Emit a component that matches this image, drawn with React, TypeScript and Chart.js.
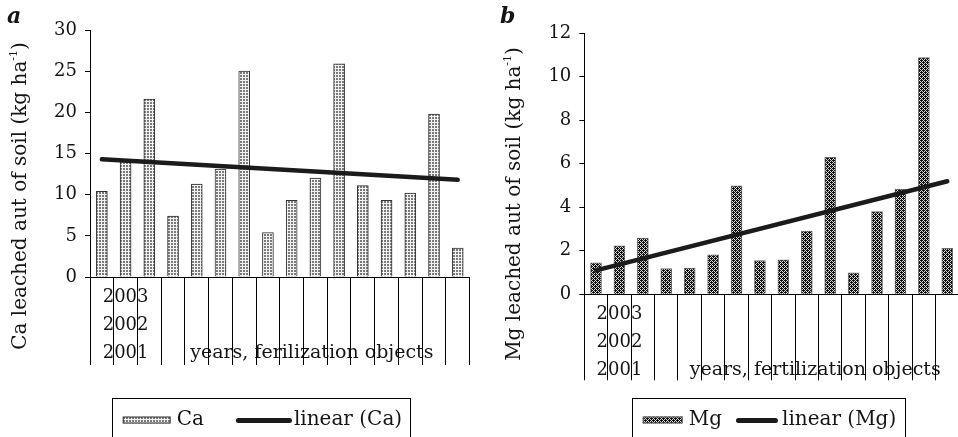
import React, { useEffect, useRef } from 'react';
import { Chart, registerables } from 'chart.js';

Chart.register(...registerables);

// ---- data ----
const objects = ['1', '2', '3', '4', '5', '6', '7', '8', '9', '10', '11', '12', '13', '14', '15', '16'];
const caValues = [10.4, 14.2, 21.6, 7.4, 11.3, 13.1, 25.0, 5.4, 9.3, 12.0, 25.9, 11.1, 9.3, 10.2, 19.8, 3.5];
const mgValues = [1.45, 2.23, 2.59, 1.18, 1.21, 1.82, 4.99, 1.55, 1.59, 2.91, 6.3, 0.99, 3.8, 4.84, 10.88, 2.11];
// linear trend: value at the first and at the last object
const caTrendEnds = [14.3, 11.8];
const mgTrendEnds = [1.1, 5.2];
const yearLabels = ['2003', '2002', '2001'];
const caAxis = [0, 30, 5];
const mgAxis = [0, 12, 2];

const SERIF = '"DejaVu Serif", serif';
const INK = '#151515';

const trendSeries = (ends: number[]) =>
  objects.map((_, i) => (i === 0 ? ends[0] : i === objects.length - 1 ? ends[1] : null));

function makePattern(kind: 'dots' | 'hatch'): CanvasPattern | string {
  const tile = document.createElement('canvas');
  const n = kind === 'dots' ? 3 : 4;
  tile.width = n;
  tile.height = n;
  const t = tile.getContext('2d');
  if (!t) return '#999';
  if (kind === 'dots') {
    t.fillStyle = '#f2f2f2';
    t.fillRect(0, 0, n, n);
    t.fillStyle = '#7a7a7a';
    t.fillRect(0, 0, 2, 2);
  } else {
    t.fillStyle = '#111';
    t.fillRect(0, 0, n, n);
    t.fillStyle = '#d8d8d8';
    for (let y = 0; y < n; y++) {
      for (let x = 0; x < n; x++) {
        if ((x + y) % 4 === 0 || (x - y + 4) % 4 === 0) t.fillRect(x, y, 1, 1);
      }
    }
  }
  const c = document.createElement('canvas').getContext('2d');
  return (c && c.createPattern(tile, 'repeat')) || '#999';
}

type PanelSpec = {
  letter: string;
  letterX: number;
  series: string;
  values: number[];
  trendEnds: number[];
  axis: number[];
  caption: string;
  captionAt: number;
  pattern: 'dots' | 'hatch';
  barBorder: string;
  width: number;
  padding: { left: number; top: number; right: number; bottom: number };
  yWidth: number;
  xHeight: number;
  titleX: number;
  titleY: number;
  legend: { left: number; top: number; swatchW: number; lineW: number; gapText: number; gapLine: number };
};

const decorPlugin = {
  id: 'decor',
  beforeDraw(chart: any, _a: any, opts: any) {
    // group texts under the category axis; the separator lines are drawn over them
    const x = chart.scales.x;
    const ctx = chart.ctx as CanvasRenderingContext2D;
    ctx.save();
    ctx.fillStyle = INK;
    ctx.textAlign = 'center';
    ctx.textBaseline = 'alphabetic';
    ctx.font = `18px ${SERIF}`;
    const yx = x.getPixelForValue(1);
    const rows = [25, 53, 81];
    yearLabels.forEach((t, i) => ctx.fillText(t, yx, x.top + rows[i]));
    ctx.font = `19px ${SERIF}`;
    ctx.fillText(opts.caption, x.getPixelForValue(opts.captionAt), x.top + rows[2]);
    ctx.restore();
  },
  afterDraw(chart: any, _a: any, opts: any) {
    const ctx = chart.ctx as CanvasRenderingContext2D;
    ctx.save();
    ctx.fillStyle = INK;
    ctx.textBaseline = 'alphabetic';
    ctx.textAlign = 'left';

    // panel letter
    ctx.font = `bold italic 22px ${SERIF}`;
    ctx.fillText(opts.letter, opts.letterX, 23);

    // rotated y axis title with superscript
    const parts = [
      { text: `${opts.series} leached aut of soil (kg ha`, size: 20, rise: 0 },
      { text: '-1', size: 11, rise: 9 },
      { text: ')', size: 20, rise: 0 },
    ];
    ctx.save();
    ctx.translate(opts.titleX, opts.titleY);
    ctx.rotate(-Math.PI / 2);
    const widths = parts.map((p) => {
      ctx.font = `${p.size}px ${SERIF}`;
      return ctx.measureText(p.text).width;
    });
    let tx = -widths.reduce((s, w) => s + w, 0) / 2;
    parts.forEach((p, i) => {
      ctx.font = `${p.size}px ${SERIF}`;
      ctx.fillText(p.text, tx, -p.rise);
      tx += widths[i];
    });
    ctx.restore();

    // boxed legend
    const lg = opts.legend;
    const bars = chart.data.datasets[1];
    const trend = chart.data.datasets[0];
    const midY = lg.top + 22;
    const base = lg.top + 27;
    ctx.font = `20px ${SERIF}`;
    let x = lg.left + 11;
    ctx.fillStyle = bars.backgroundColor;
    ctx.fillRect(x, midY - 3.5, lg.swatchW, 7);
    ctx.strokeStyle = bars.borderColor;
    ctx.lineWidth = 1;
    ctx.strokeRect(x + 0.5, midY - 3, lg.swatchW - 1, 6);
    x += lg.swatchW + 6;
    ctx.fillStyle = INK;
    ctx.fillText(bars.label, x, base);
    x += ctx.measureText(bars.label).width + lg.gapText;
    ctx.strokeStyle = trend.borderColor;
    ctx.lineWidth = 5;
    ctx.lineCap = 'round';
    ctx.beginPath();
    ctx.moveTo(x + 2.5, midY + 0.5);
    ctx.lineTo(x + lg.lineW - 2.5, midY + 0.5);
    ctx.stroke();
    x += lg.lineW + lg.gapLine;
    ctx.fillText(trend.label, x, base);
    x += ctx.measureText(trend.label).width + 8;
    ctx.strokeStyle = '#000';
    ctx.lineWidth = 1;
    ctx.lineCap = 'butt';
    ctx.strokeRect(Math.round(lg.left) + 0.5, lg.top + 0.5, Math.round(x - lg.left), 60);
    ctx.restore();
  },
};

function Panel({ spec, left }: { spec: PanelSpec; left: number }) {
  const ref = useRef<HTMLCanvasElement | null>(null);
  useEffect(() => {
    if (!ref.current) return;
    const fill = makePattern(spec.pattern);
    const chart = new Chart(ref.current, {
      type: 'bar',
      data: {
        labels: objects,
        datasets: [
          {
            type: 'line',
            label: `linear (${spec.series})`,
            data: trendSeries(spec.trendEnds),
            borderColor: '#1b1b1b',
            borderWidth: 4.5,
            borderCapStyle: 'round',
            pointRadius: 0,
            spanGaps: true,
            order: 0,
          } as any,
          {
            type: 'bar',
            label: spec.series,
            data: spec.values,
            backgroundColor: fill as any,
            borderColor: spec.barBorder,
            borderWidth: 1,
            barThickness: 11,
            order: 1,
          },
        ],
      },
      options: {
        responsive: false,
        animation: false,
        layout: { padding: spec.padding },
        font: { family: SERIF },
        plugins: {
          legend: { display: false },
          tooltip: { enabled: false },
          decor: {
            letter: spec.letter,
            letterX: spec.letterX,
            series: spec.series,
            caption: spec.caption,
            captionAt: spec.captionAt,
            titleX: spec.titleX,
            titleY: spec.titleY,
            legend: spec.legend,
          },
        } as any,
        scales: {
          x: {
            type: 'category',
            offset: true,
            grid: { offset: true, drawOnChartArea: false, tickLength: spec.xHeight, color: '#000', lineWidth: 1 },
            border: { color: '#000', width: 1 },
            ticks: { display: false },
            afterFit: (s: any) => {
              s.height = spec.xHeight;
            },
          },
          y: {
            min: spec.axis[0],
            max: spec.axis[1],
            grid: { drawOnChartArea: false, tickLength: 5, color: '#000', lineWidth: 1 },
            border: { color: '#000', width: 1 },
            ticks: { stepSize: spec.axis[2], padding: 8, color: INK, font: { family: SERIF, size: 18 } },
            afterFit: (s: any) => {
              s.width = spec.yWidth;
            },
          },
        },
      },
      plugins: [decorPlugin],
    });
    return () => chart.destroy();
  }, [spec]);
  return (
    <canvas
      ref={ref}
      width={spec.width}
      height={437}
      style={{ position: 'absolute', left, top: 0, width: spec.width, height: 437 }}
    />
  );
}

const panelA: PanelSpec = {
  letter: 'a',
  letterX: 7,
  series: 'Ca',
  values: caValues,
  trendEnds: caTrendEnds,
  axis: caAxis,
  caption: 'years, ferilization objects',
  captionAt: 8.85,
  pattern: 'dots',
  barBorder: '#333333',
  width: 479,
  padding: { left: 0, top: 30, right: 9.4, bottom: 72 },
  yWidth: 90,
  xHeight: 88,
  titleX: 26,
  titleY: 196,
  legend: { left: 111.7, top: 398, swatchW: 48, lineW: 56, gapText: 32, gapLine: 2 },
};

const panelB: PanelSpec = {
  letter: 'b',
  letterX: 21,
  series: 'Mg',
  values: mgValues,
  trendEnds: mgTrendEnds,
  axis: mgAxis,
  caption: 'years, fertilization objects',
  captionAt: 9.36,
  pattern: 'hatch',
  barBorder: '#6a6a6a',
  width: 481,
  padding: { left: 0, top: 33.3, right: 1, bottom: 56.7 },
  yWidth: 105.3,
  xHeight: 86,
  titleX: 40.5,
  titleY: 204,
  legend: { left: 152.7, top: 398, swatchW: 40, lineW: 42, gapText: 14, gapLine: 4 },
};

export default function App() {
  return (
    <div
      style={{
        position: 'absolute',
        left: 0,
        top: 0,
        width: 958,
        height: 437,
        overflow: 'hidden',
        background: '#fff',
      }}
    >
      <Panel spec={panelA} left={0} />
      <Panel spec={panelB} left={479} />
    </div>
  );
}
